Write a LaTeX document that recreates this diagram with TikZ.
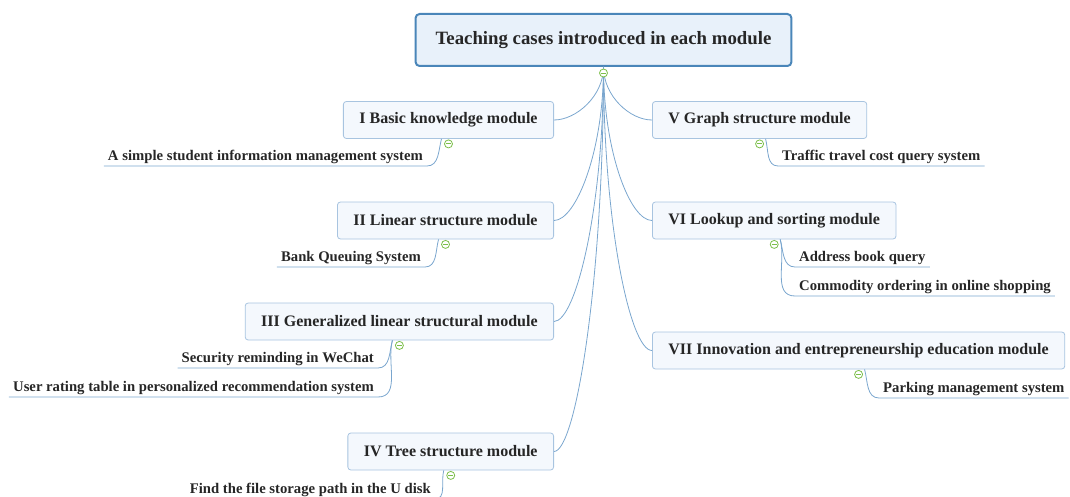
\documentclass[tikz,border=0pt]{standalone}
\usepackage{fontspec}
\setmainfont{Liberation Serif}
\usetikzlibrary{positioning,calc}
\definecolor{rootline}{HTML}{4A86B9}
\definecolor{rootfill}{HTML}{E8F1FA}
\definecolor{boxline}{HTML}{A8C4E0}
\definecolor{boxfill}{HTML}{F4F8FD}
\definecolor{linkc}{HTML}{7AA6CE}
\definecolor{foldc}{HTML}{7CBF4A}
\definecolor{txt}{HTML}{262626}
\begin{document}
\begin{tikzpicture}[x=1pt,y=-1pt,
root/.style={draw=rootline,line width=2pt,rounded corners=4pt,fill=rootfill,text=txt,font=\fontsize{18.8}{20}\selectfont\bfseries,inner xsep=20pt,minimum height=52pt},
module/.style={draw=boxline,line width=0.8pt,rounded corners=3pt,fill=boxfill,text=txt,font=\fontsize{16}{18}\selectfont\bfseries,inner xsep=16pt,minimum height=37pt},
leaf/.style={text=txt,font=\fontsize{14.7}{16}\selectfont\bfseries,inner xsep=4pt,inner ysep=2pt,text height=10.5pt,text depth=3pt},
link/.style={draw=linkc,line width=0.8pt},
fold/.style={circle,draw=foldc,fill=white,line width=0.8pt,minimum size=8pt,inner sep=0pt,path picture={\draw[foldc,line width=0.8pt]([xshift=-2.5pt]path picture bounding box.center)--([xshift=2.5pt]path picture bounding box.center);}}]
\useasboundingbox(0,0)rectangle(1070,497);
\node[root](root)at(603.5,40){Teaching cases introduced in each module};
\foreach \n/\y/\t in {b1/120/I Basic knowledge module,b2/220.5/II Linear structure module,b3/321.5/III Generalized linear structural module,b4/451.5/IV Tree structure module}
  \node[module,anchor=east](\n)at(554,\y){\t};
\foreach \n/\y/\t in {b5/120/V Graph structure module,b6/220.5/VI Lookup and sorting module,b7/350.5/VII Innovation and entrepreneurship education module}
  \node[module,anchor=west](\n)at(652,\y){\t};
\foreach \n in {b1,b2,b3,b4}\draw[link](root.south)..controls($(root.south)!0.55!(root.south|-\n.east)$)and($(\n.east)+(22,0)$)..(\n.east);
\foreach \n in {b5,b6,b7}\draw[link](root.south)..controls($(root.south)!0.55!(root.south|-\n.west)$)and($(\n.west)+(-22,0)$)..(\n.west);
\node[leaf,anchor=south east](l1)at(427,166){A simple student information management system};
\node[leaf,anchor=south east](l2)at(425,267){Bank Queuing System};
\node[leaf,anchor=south east](l3)at(378,368){Security reminding in WeChat};
\node[leaf,anchor=south east](l4)at(378,397){User rating table in personalized recommendation system};
\node[leaf,anchor=south east](l5)at(435,499){Find the file storage path in the U disk};
\node[leaf,anchor=south west](l6)at(778,166){Traffic travel cost query system};
\node[leaf,anchor=south west](l7)at(795,267){Address book query};
\node[leaf,anchor=south west](l8)at(795,296){Commodity ordering in online shopping};
\node[leaf,anchor=south west](l9)at(879,398){Parking management system};
\foreach \n in {b1,b2,b3,b4}\coordinate(s\n)at([xshift=-7pt]\n.south);
\foreach \n in {b5,b6,b7}\coordinate(s\n)at([xshift=6pt]\n.south);
\foreach \b/\l in {b1/l1,b2/l2,b3/l3,b3/l4,b4/l5}\draw[link](s\b)to[out=-105,in=0](\l.south east)--(\l.south west);
\foreach \b/\l in {b5/l6,b6/l7,b6/l8,b7/l9}\draw[link](s\b)to[out=-75,in=180](\l.south west)--(\l.south east);
\node[fold](f0)at([yshift=-6pt]root.south){};
\foreach \n in {b1,b2,b3,b4,b5,b6,b7}\node[fold](f\n)at([yshift=-5pt]\n.south){};
\end{tikzpicture}
\end{document}
